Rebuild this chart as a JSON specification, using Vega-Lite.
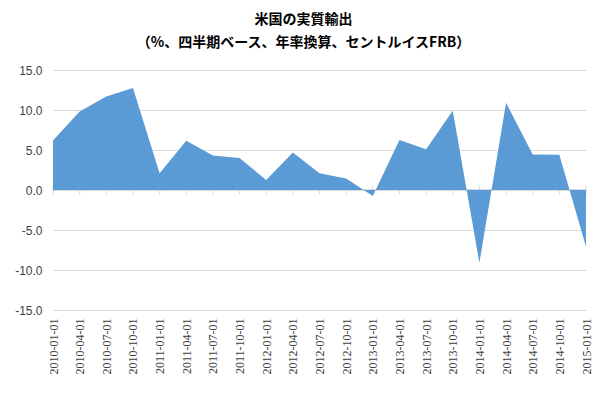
{
  "$schema": "https://vega.github.io/schema/vega-lite/v6.json",
  "width": 533,
  "height": 240,
  "autosize": "none",
  "padding": {"left": 53, "top": 70, "right": 20, "bottom": 86},
  "background": "white",
  "title": {
    "text": ["米国の実質輸出", "（%、四半期ベース、年率換算、セントルイスFRB）"],
    "font": "Noto Sans CJK JP",
    "fontSize": 14,
    "fontWeight": "bold",
    "lineHeight": 23,
    "color": "#000000",
    "anchor": "middle",
    "dx": -16,
    "offset": 14
  },
  "config": {
    "view": {"stroke": null},
    "locale": {"number": {"decimal": ".", "thousands": ",", "grouping": [3], "currency": ["$", ""], "minus": "-"}},
    "axisY": {"labelOverlap": false, "labelBound": false, "labelFlush": false}
  },
  "data": {
    "values": [
      {"date": "2010-01-01", "value": 6.2},
      {"date": "2010-04-01", "value": 9.8},
      {"date": "2010-07-01", "value": 11.7},
      {"date": "2010-10-01", "value": 12.75},
      {"date": "2011-01-01", "value": 2.1},
      {"date": "2011-04-01", "value": 6.15},
      {"date": "2011-07-01", "value": 4.3},
      {"date": "2011-10-01", "value": 4.0},
      {"date": "2012-01-01", "value": 1.25},
      {"date": "2012-04-01", "value": 4.7},
      {"date": "2012-07-01", "value": 2.1},
      {"date": "2012-10-01", "value": 1.45},
      {"date": "2013-01-01", "value": -0.75},
      {"date": "2013-04-01", "value": 6.25},
      {"date": "2013-07-01", "value": 5.1},
      {"date": "2013-10-01", "value": 9.9},
      {"date": "2014-01-01", "value": -9.1},
      {"date": "2014-04-01", "value": 10.9},
      {"date": "2014-07-01", "value": 4.45},
      {"date": "2014-10-01", "value": 4.4},
      {"date": "2015-01-01", "value": -7.1}
    ]
  },
  "encoding": {
    "x": {
      "field": "date",
      "type": "ordinal",
      "scale": {"type": "point", "padding": 0},
      "axis": {
        "title": null,
        "labelAngle": -90,
        "labelFont": "Liberation Serif",
        "labelFontSize": 12,
        "labelColor": "#404040",
        "labelPadding": 8,
        "domain": false,
        "ticks": false,
        "grid": false
      }
    }
  },
  "layer": [
    {
      "mark": {"type": "rule", "color": "#D9D9D9", "strokeWidth": 1},
      "encoding": {
        "x": null,
        "y": {"datum": 0, "type": "quantitative"}
      }
    },
    {
      "mark": {"type": "tick", "color": "#D9D9D9", "orient": "vertical", "size": 9, "thickness": 1, "opacity": 1},
      "encoding": {
        "y": {"datum": 0, "type": "quantitative"}
      }
    },
    {
      "mark": {"type": "area", "color": "#5B9BD5", "opacity": 1},
      "encoding": {
        "y": {
          "field": "value",
          "type": "quantitative",
          "scale": {"domain": [-15, 15], "nice": false},
          "axis": {
            "title": null,
            "values": [-15, -10, -5, 0, 5, 10, 15],
            "tickCount": 20,
            "format": ".1f",
            "labelOverlap": false,
            "labelFont": "Liberation Sans",
            "labelFontSize": 12,
            "labelColor": "#404040",
            "labelPadding": 11,
            "domain": false,
            "ticks": false,
            "grid": true,
            "gridColor": "#D9D9D9",
            "gridWidth": 1
          }
        }
      }
    }
  ]
}
